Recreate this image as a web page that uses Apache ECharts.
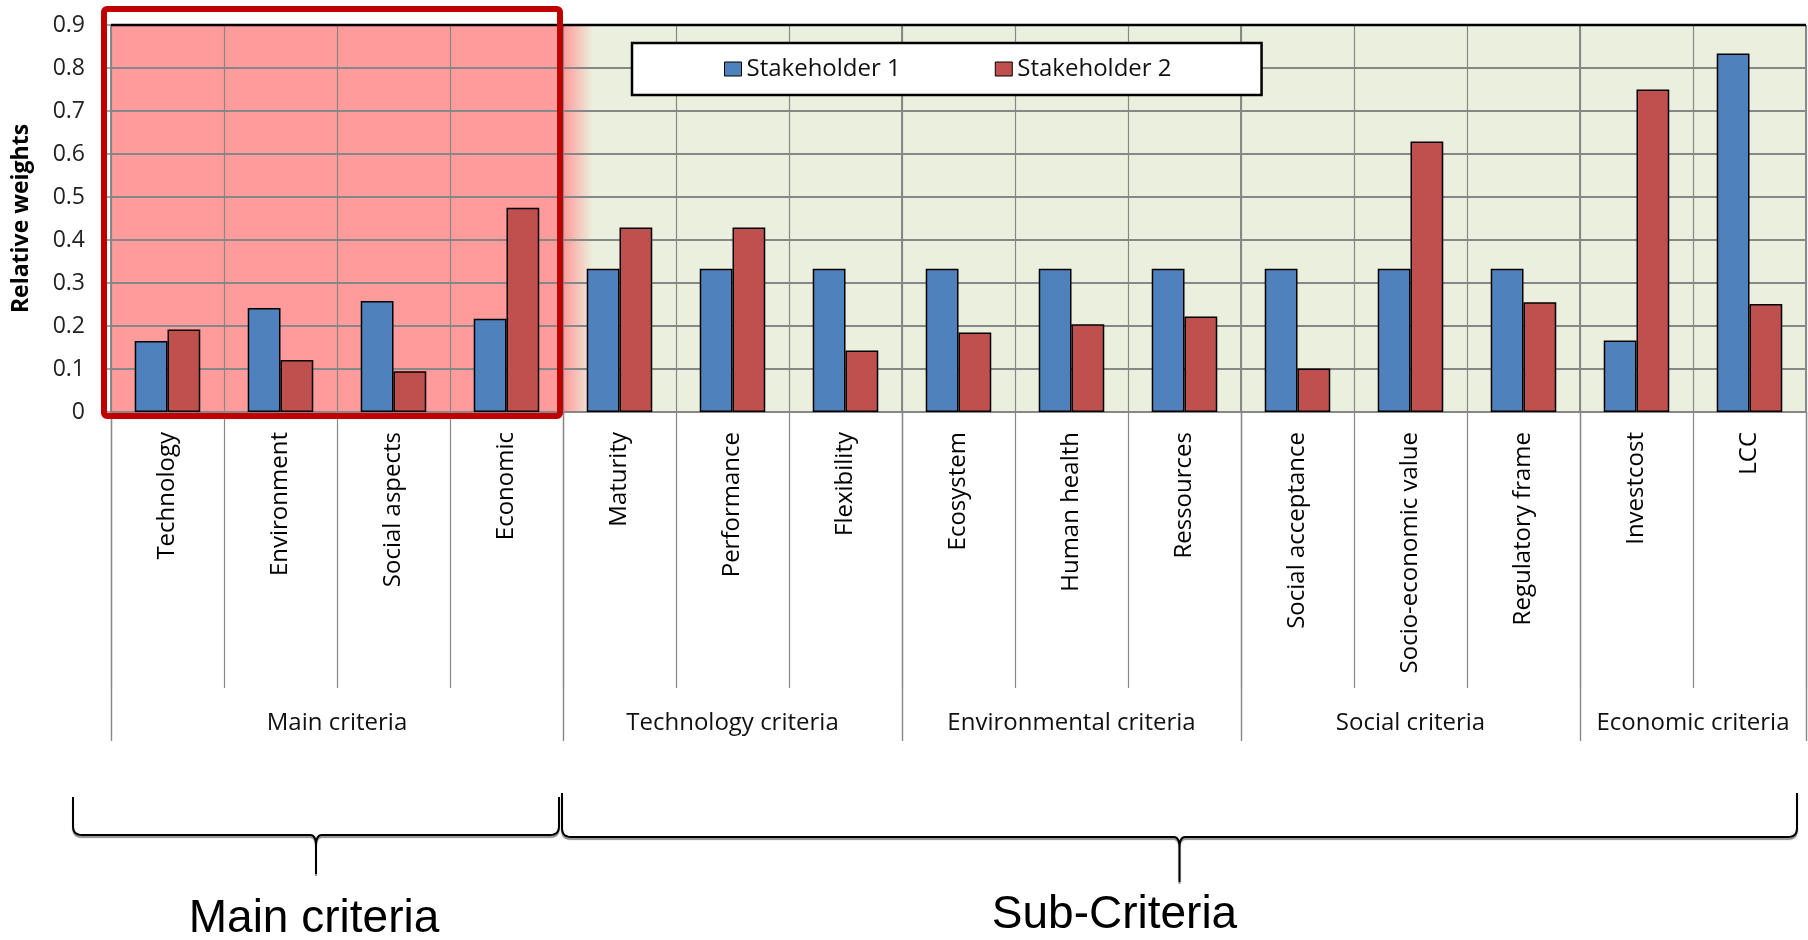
<!DOCTYPE html>
<html>
<head>
<meta charset="utf-8">
<script src="https://cdn.jsdelivr.net/npm/echarts@6/dist/echarts.min.js"></script>
<style>
  html, body { margin: 0; padding: 0; background: #fff; }
  #chart { width: 1808px; height: 940px; }
</style>
</head>
<body>
<div id="chart"></div>
<script>
// Criteria (x axis), in display order
const categories = [
  'Technology', 'Environment', 'Social aspects', 'Economic',
  'Maturity', 'Performance', 'Flexibility',
  'Ecosystem', 'Human health', 'Ressources',
  'Social acceptance', 'Socio-economic value', 'Regulatory frame',
  'Investcost', 'LCC'
];

// Relative weights per stakeholder
const stakeholder1 = [0.165, 0.242, 0.258, 0.217, 0.333, 0.333, 0.333, 0.333, 0.333, 0.333, 0.333, 0.333, 0.333, 0.166, 0.834];
const stakeholder2 = [0.192, 0.121, 0.095, 0.475, 0.429, 0.429, 0.143, 0.185, 0.204, 0.222, 0.101, 0.629, 0.255, 0.750, 0.251];

const seriesNames = ['Stakeholder 1', 'Stakeholder 2'];

// Criteria groups shown under the axis labels
const groupNames = ['Main criteria', 'Technology criteria', 'Environmental criteria', 'Social criteria', 'Economic criteria'];
const groupSizes = [4, 3, 3, 3, 2];

// Braces below the chart
const braceNames = ['Main criteria', 'Sub-Criteria'];
const braceSizes = [4, 11];

// Value axis
const yMin = 0, yMax = 0.9, yStep = 0.1;

const FONT = '"Open Sans", "Noto Sans", sans-serif';
const GRID = '#878787';
const BLUE = '#4F81BD', RED = '#C0504D';
const PINK = '#FF9B9B', GREEN = '#EBF0DE';

const groupStarts = [];
(function () { let a = 0; groupSizes.forEach(s => { groupStarts.push(a); a += s; }); })();
const isGroupStart = (i) => groupStarts.indexOf(i) >= 0;

const chart = echarts.init(document.getElementById('chart'), null, { renderer: 'canvas' });

const option = {
  animation: false,
  textStyle: { fontFamily: FONT },
  grid: { left: 111, right: 2, top: 25, bottom: 528 },
  legend: {
    data: seriesNames,
    left: 632, top: 43,
    icon: 'rect',
    itemWidth: 17, itemHeight: 14, itemGap: 94,
    padding: [14, 90, 14, 92],
    backgroundColor: '#fff', borderColor: '#000', borderWidth: 2.5,
    textStyle: { fontSize: 24, color: '#111', fontFamily: FONT },
    itemStyle: { borderColor: '#000', borderWidth: 1 }
  },
  xAxis: [
    {
      type: 'category', data: categories, position: 'bottom', boundaryGap: true,
      axisLine: { show: true, lineStyle: { color: GRID, width: 2 } },
      axisTick: { show: true, interval: 0, length: 276, lineStyle: { color: GRID, width: 1.2 } },
      axisLabel: { interval: 0, rotate: 90, margin: 20, fontSize: 24, color: '#000', fontFamily: FONT },
      splitLine: { show: true, interval: 0, lineStyle: { color: GRID, width: 1.2 } }
    },
    {
      type: 'category', data: categories, position: 'bottom', boundaryGap: true,
      axisLine: { show: false },
      axisTick: { show: true, interval: isGroupStart, length: 329, lineStyle: { color: GRID, width: 1.4 } },
      axisLabel: { show: false },
      splitLine: { show: true, interval: isGroupStart, lineStyle: { color: GRID, width: 2 } }
    }
  ],
  yAxis: {
    type: 'value', min: yMin, max: yMax, interval: yStep,
    name: 'Relative weights', nameLocation: 'middle', nameGap: 78, nameRotate: 90,
    nameTextStyle: { fontWeight: 'bold', fontSize: 23, color: '#000', fontFamily: FONT },
    axisLine: { show: true, lineStyle: { color: GRID, width: 2 } },
    axisTick: { show: true, length: 4, lineStyle: { color: GRID, width: 1.5 } },
    axisLabel: { fontSize: 23, color: '#222', margin: 26, fontFamily: FONT },
    splitLine: { show: true, lineStyle: { color: GRID, width: 2 } }
  },
  series: [
    {
      name: seriesNames[0], type: 'bar', data: stakeholder1,
      barWidth: '29%', barGap: '0%',
      itemStyle: { color: BLUE, borderColor: '#000', borderWidth: 1.5 }
    },
    {
      name: seriesNames[1], type: 'bar', data: stakeholder2,
      barWidth: '29%', barGap: '0%',
      itemStyle: { color: RED, borderColor: '#000', borderWidth: 1.5 }
    }
  ]
};

chart.setOption(option);

// Overlays placed from the axis scales
const cx = (i) => chart.convertToPixel({ xAxisIndex: 0 }, categories[i]);
const py = (v) => chart.convertToPixel({ yAxisIndex: 0 }, v);
const band = cx(1) - cx(0);
const boundary = (i) => cx(0) + (i - 0.5) * band;
const yTop = py(yMax), yBase = py(yMin);
const n = categories.length;
const hiEnd = boundary(groupSizes[0]);

function quad(p0, c, p1, steps) {
  const pts = [];
  for (let k = 1; k <= steps; k++) {
    const t = k / steps;
    pts.push([
      (1 - t) * (1 - t) * p0[0] + 2 * (1 - t) * t * c[0] + t * t * p1[0],
      (1 - t) * (1 - t) * p0[1] + 2 * (1 - t) * t * c[1] + t * t * p1[1]
    ]);
  }
  return pts;
}

function brace(x1, x2, yT, yH, xC, yB) {
  const r = 9, r2 = 6;
  let pts = [[x1, yT], [x1, yH - r]];
  pts = pts.concat(quad([x1, yH - r], [x1, yH], [x1 + r, yH], 6));
  pts.push([xC - r2, yH]);
  pts = pts.concat(quad([xC - r2, yH], [xC, yH], [xC, yH + r2 + 4], 6));
  pts.push([xC, yB]);
  pts.push([xC, yH + r2 + 4]);
  pts = pts.concat(quad([xC, yH + r2 + 4], [xC, yH], [xC + r2, yH], 6));
  pts.push([x2 - r, yH]);
  pts = pts.concat(quad([x2 - r, yH], [x2, yH], [x2, yH - r], 6));
  pts.push([x2, yT]);
  return {
    type: 'polyline', z: 5,
    shape: { points: pts },
    style: { stroke: '#000', lineWidth: 2, fill: null, shadowColor: 'rgba(0,0,0,0.45)', shadowOffsetY: 2, shadowBlur: 1 }
  };
}

const graphics = [];

// plot backgrounds
graphics.push({
  type: 'rect', z: -2,
  shape: { x: boundary(0), y: yTop, width: boundary(n) - boundary(0), height: yBase - yTop },
  style: { fill: GREEN }
});
graphics.push({
  type: 'rect', z: -1,
  shape: { x: boundary(0), y: yTop, width: hiEnd - boundary(0), height: yBase - yTop },
  style: { fill: PINK }
});
graphics.push({
  type: 'rect', z: -1,
  shape: { x: hiEnd, y: yTop, width: 30, height: yBase - yTop },
  style: {
    fill: new echarts.graphic.LinearGradient(0, 0, 1, 0, [
      { offset: 0, color: 'rgba(255,155,155,1)' },
      { offset: 1, color: 'rgba(255,155,155,0)' }
    ])
  }
});

// top frame line
graphics.push({
  type: 'line', z: 6,
  shape: { x1: boundary(0), y1: yTop, x2: boundary(n), y2: yTop },
  style: { stroke: '#000', lineWidth: 2.5 }
});

// highlight frame around the main criteria
graphics.push({
  type: 'rect', z: 10,
  shape: { x: boundary(0) - 7, y: yTop - 16, width: hiEnd - 3 - (boundary(0) - 7), height: yBase + 4 - (yTop - 16), r: 3 },
  style: { fill: null, stroke: '#C00000', lineWidth: 6 }
});

// group labels
groupNames.forEach((name, g) => {
  const s = groupStarts[g];
  const mid = (boundary(s) + boundary(s + groupSizes[g])) / 2;
  graphics.push({
    type: 'text', z: 5, x: mid, y: yBase + 311,
    style: {
      text: name, fill: '#111', font: '24px ' + FONT,
      textAlign: 'center', align: 'center', textVerticalAlign: 'middle', verticalAlign: 'middle'
    }
  });
});

// braces with captions
(function () {
  const b0 = boundary(0), b1 = boundary(braceSizes[0]), b2 = boundary(braceSizes[0] + braceSizes[1]);
  const specs = [
    { x1: b0 - 38, x2: b1 - 4, yT: 797, yH: 835, yB: 874, textDx: -2, textY: 919 },
    { x1: b1 - 1, x2: b2 - 9, yT: 793, yH: 837, yB: 882, textDx: -65, textY: 915 }
  ];
  specs.forEach((sp, k) => {
    const xC = (sp.x1 + sp.x2) / 2;
    graphics.push(brace(sp.x1, sp.x2, sp.yT, sp.yH, xC, sp.yB));
    graphics.push({
      type: 'text', z: 5, x: xC + sp.textDx, y: sp.textY,
      style: {
        text: braceNames[k], fill: '#000', font: '46px "Liberation Sans", Arial, sans-serif',
        textAlign: 'center', align: 'center', textVerticalAlign: 'middle', verticalAlign: 'middle'
      }
    });
  });
})();

chart.setOption({ graphic: { elements: graphics } });
</script>
</body>
</html>
